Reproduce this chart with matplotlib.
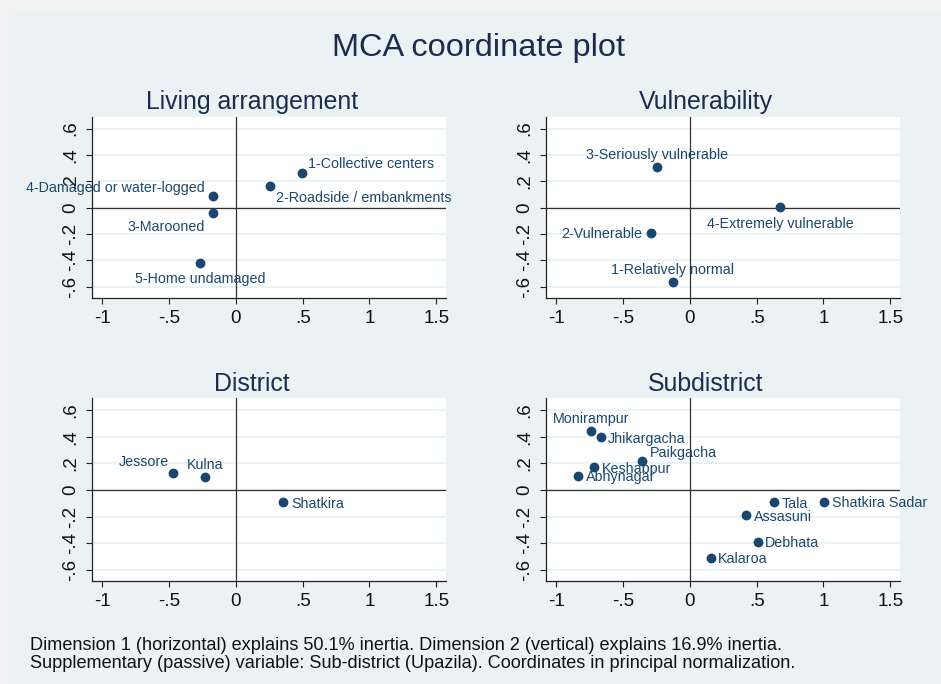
import matplotlib
matplotlib.use("Agg")
import matplotlib.pyplot as plt
from matplotlib.patches import Rectangle

plt.rcParams["font.family"] = ["Liberation Sans", "DejaVu Sans"]

# ---- data (dimension 1, dimension 2 coordinates) ----
living_labels = ["1-Collective centers", "2-Roadside / embankments",
                 "4-Damaged or water-logged", "3-Marooned", "5-Home undamaged"]
living_x = [0.492, 0.255, -0.175, -0.175, -0.270]
living_y = [0.265, 0.164, 0.088, -0.043, -0.416]
living_pos = ["ur", "lr", "ul", "ll", "below"]

vuln_labels = ["3-Seriously vulnerable", "4-Extremely vulnerable",
               "2-Vulnerable", "1-Relatively normal"]
vuln_x = [-0.246, 0.676, -0.294, -0.130]
vuln_y = [0.310, 0.005, -0.191, -0.562]
vuln_pos = ["above", "below", "left", "above"]

district_labels = ["Jessore", "Kulna", "Shatkira"]
district_x = [-0.470, -0.230, 0.355]
district_y = [0.128, 0.100, -0.093]
district_pos = ["ul2", "above", "right"]

sub_labels = ["Monirampur", "Jhikargacha", "Paikgacha", "Keshabpur", "Abhynagar",
              "Tala", "Shatkira Sadar", "Assasuni", "Debhata", "Kalaroa"]
sub_x = [-0.741, -0.668, -0.356, -0.716, -0.836, 0.633, 1.005, 0.420, 0.508, 0.156]
sub_y = [0.441, 0.396, 0.221, 0.170, 0.105, -0.093, -0.090, -0.191, -0.389, -0.512]
sub_pos = ["above", "right", "ur2", "right", "right",
           "right", "right", "right", "right", "right"]

x_ticks = [-1, -0.5, 0, 0.5, 1, 1.5]
x_ticklabels = ["-1", "-.5", "0", ".5", "1", "1.5"]
y_ticks = [-0.6, -0.4, -0.2, 0, 0.2, 0.4, 0.6]
y_ticklabels = ["-.6", "-.4", "-.2", "0", ".2", ".4", ".6"]

footnote_lines = [
    "Dimension 1 (horizontal) explains 50.1% inertia. Dimension 2 (vertical) explains 16.9% inertia.",
    "Supplementary (passive) variable: Sub-district (Upazila). Coordinates in principal normalization.",
]

# label placement: offset in points, horizontal alignment
POS = {
    "ur": ((4.8, 6.0), "left"),
    "ur2": ((5.3, 5.5), "left"),
    "lr": ((4.3, -8.9), "left"),
    "ul": ((-5.5, 5.5), "right"),
    "ul2": ((-2.9, 7.6), "right"),
    "ll": ((-5.5, -9.6), "right"),
    "below": ((0, -12.0), "center"),
    "above": ((0, 8.6), "center"),
    "left": ((-6.2, -0.5), "right"),
    "right": ((5.4, -1.0), "left"),
}

BG = "#eaf2f3"
NAVY = "#1a476f"
TITLE = "#1c2b50"

W, H = 941, 684
fig = plt.figure(figsize=(W / 100, H / 100), dpi=100, facecolor="#f2f2f2")
fig.patches.append(Rectangle((9 / W, 0), 1, 1 - 10 / H, transform=fig.transFigure,
                             facecolor=BG, edgecolor="none", zorder=-10))


def px_axes(left, top, right, bottom):
    return fig.add_axes([left / W, 1 - bottom / H, (right - left) / W, (bottom - top) / H])


def panel(ax, xs, ys, labels, positions):
    ax.set_facecolor("white")
    ax.set_xlim(-1.08, 1.573)
    ax.set_ylim(-0.685, 0.69)
    for s in ["top", "right"]:
        ax.spines[s].set_visible(False)
    for s in ["left", "bottom"]:
        ax.spines[s].set_linewidth(0.9)
        ax.spines[s].set_color("#222222")
    for yv in y_ticks:
        ax.axhline(yv, color=BG, lw=1.6, zorder=1)
    ax.axhline(0, color="#333333", lw=0.9, zorder=2)
    ax.axvline(0, color="#333333", lw=0.9, zorder=2)
    ax.set_xticks(x_ticks)
    ax.set_xticklabels(x_ticklabels)
    ax.set_yticks(y_ticks)
    ax.set_yticklabels(y_ticklabels, rotation=90, va="center")
    ax.tick_params(axis="both", length=4.5, width=0.8, color="#222222",
                   labelsize=13.5, labelcolor="#111111")
    ax.tick_params(axis="x", pad=4.5)
    ax.tick_params(axis="y", pad=4.5)
    ax.scatter(xs, ys, s=50, color=NAVY, zorder=3, linewidths=0)
    for x, y, lab, p in zip(xs, ys, labels, positions):
        off, ha = POS[p]
        ax.annotate(lab, (x, y), xytext=off, textcoords="offset points",
                    ha=ha, va="center", fontsize=10.3, color=NAVY, zorder=4,
                    annotation_clip=False)


ax1 = px_axes(91.7, 116.7, 446, 298)
ax2 = px_axes(545.7, 116.7, 900, 298)
ax3 = px_axes(91.7, 398.3, 446, 581)
ax4 = px_axes(545.7, 398.3, 900, 581)

panel(ax1, living_x, living_y, living_labels, living_pos)
panel(ax2, vuln_x, vuln_y, vuln_labels, vuln_pos)
panel(ax3, district_x, district_y, district_labels, district_pos)
panel(ax4, sub_x, sub_y, sub_labels, sub_pos)

fig.text(478.8 / W, 1 - 56 / H, "MCA coordinate plot", ha="center", va="baseline",
         fontsize=23.4, color=TITLE)
for txt, cx, by in [("Living arrangement", 251.7, 109.3), ("Vulnerability", 706, 109.3),
                    ("District", 251.7, 391), ("Subdistrict", 706, 391)]:
    fig.text(cx / W, 1 - by / H, txt, ha="center", va="baseline", fontsize=17.9, color=TITLE)

for line, by in zip(footnote_lines, [650, 668]):
    fig.text(30 / W, 1 - by / H, line, ha="left", va="baseline", fontsize=13.05,
             color="#111111")

fig.savefig("out.png", dpi=100, facecolor=fig.get_facecolor())
